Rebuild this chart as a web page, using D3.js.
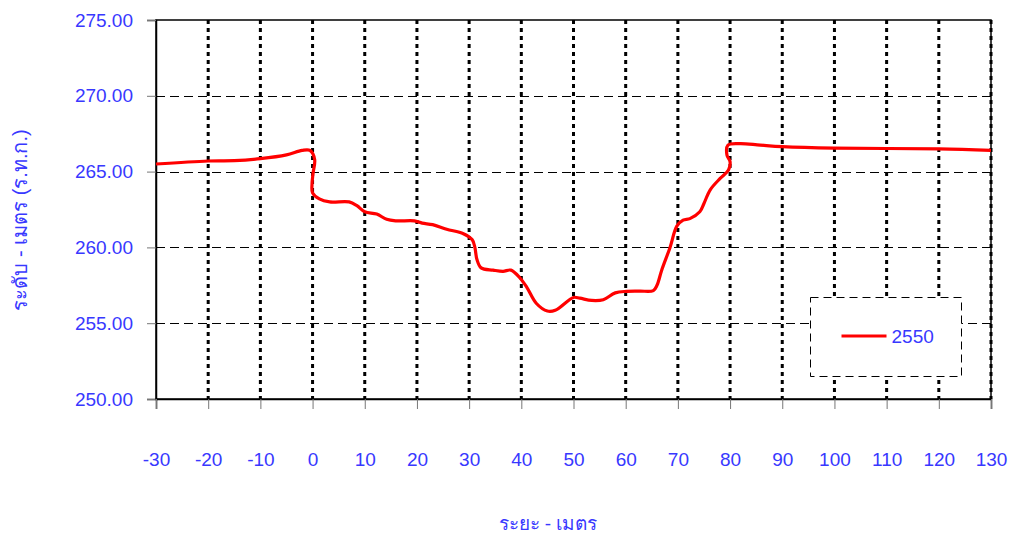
<!DOCTYPE html>
<html>
<head>
  <meta charset='utf-8'>
  <title>ระดับ - เมตร</title>
  <script src='https://cdn.jsdelivr.net/npm/d3@7/dist/d3.min.js'></script>
  <style type='text/css'>
    body { margin: 0; background: #fff; }
    text { font-family: 'Liberation Sans', Arial, sans-serif; }
  </style>
</head>
<body>
  <div id='plot-container'></div>
  <script>
    // chart values
    const seriesName = '2550';
    const distance = [
      -30, -20, -15, -10, -5, -2, -0.5, 0.4, 0.1, -0.1, 0, 1.3, 3.3, 7, 8.5,
      10, 12.3, 14.2, 16, 19.5, 21, 23, 25.7, 28.9, 30.6, 31.1, 31.5, 32.3,
      34.6, 36.5, 38, 39.7, 41, 42.9, 45, 46.5, 50, 51.2, 53.5, 55.7, 58,
      60.2, 62.7, 65.3, 66, 66.9, 68.5, 69.8, 71, 72.3, 74.2, 75, 76.2, 78.1,
      79.7, 80.0, 79.4, 79.6, 81.9, 85.8, 90, 100, 120, 130
    ];
    const level = [
      265.5, 265.7, 265.72, 265.85, 266.1, 266.4, 266.4, 265.8, 264.9, 264.2,
      263.6, 263.2, 263.0, 263.0, 262.75, 262.35, 262.2, 261.85, 261.75,
      261.75, 261.6, 261.5, 261.2, 260.9, 260.5, 260.0, 259.2, 258.65, 258.5,
      258.42, 258.5, 258.0, 257.4, 256.3, 255.8, 255.85, 256.7, 256.65, 256.5,
      256.55, 257.0, 257.1, 257.12, 257.15, 257.5, 258.5, 260.0, 261.4, 261.8,
      261.9, 262.35, 262.9, 263.8, 264.55, 265.1, 265.65, 266.1, 266.75,
      266.85, 266.75, 266.65, 266.55, 266.5, 266.4
    ];
    const xTicks = [-30, -20, -10, 0, 10, 20, 30, 40, 50, 60, 70, 80, 90, 100, 110, 120, 130];
    const yTicks = [250, 255, 260, 265, 270, 275];
    const xTitle = 'ระยะ - เมตร';
    const yTitle = 'ระดับ - เมตร (ร.ท.ก.)';

    const W = 1012, H = 534;
    const margin = { top: 20, right: 21, bottom: 135, left: 156 };
    const width = W - margin.left - margin.right;
    const height = H - margin.top - margin.bottom;
    const blue = '#3838ff';

    const svg = d3.select('#plot-container').append('svg')
        .attr('width', W).attr('height', H);
    const g = svg.append('g')
        .attr('transform', `translate(${margin.left}, ${margin.top})`);

    const x = d3.scaleLinear().domain([-30, 130]).range([0, width]);
    const y = d3.scaleLinear().domain([250, 275]).range([height, 0]);

    // horizontal dashed grid
    g.append('g').selectAll('line')
        .data(yTicks.filter(d => d > 250 && d < 275))
        .enter().append('line')
        .attr('x1', 0).attr('x2', width)
        .attr('y1', d => Math.round(y(d)) + 0.5).attr('y2', d => Math.round(y(d)) + 0.5)
        .attr('stroke', '#000').attr('stroke-width', 1)
        .attr('stroke-dasharray', '9,5');

    // frame
    g.append('rect')
        .attr('x', 0).attr('y', 0).attr('width', width).attr('height', height)
        .attr('fill', 'none').attr('stroke', '#000').attr('stroke-width', 1.5);

    // vertical dotted grid
    g.append('g').selectAll('line')
        .data(xTicks.filter(d => d > -30))
        .enter().append('line')
        .attr('x1', d => x(d)).attr('x2', d => x(d))
        .attr('y1', 0).attr('y2', height)
        .attr('stroke', '#000').attr('stroke-width', 3)
        .attr('stroke-dasharray', '4,4');

    // axes
    const yAxis = g.append('g')
        .call(d3.axisLeft(y).tickValues(yTicks).tickSize(9).tickPadding(14)
            .tickFormat(d3.format('.2f')));
    const xAxis = g.append('g')
        .attr('transform', `translate(0, ${height})`)
        .call(d3.axisBottom(x).tickValues(xTicks).tickSize(10).tickPadding(44)
            .tickFormat(d => String(d)));
    [xAxis, yAxis].forEach(a => {
        a.select('.domain').attr('stroke', '#000').attr('stroke-width', 1.5);
        a.selectAll('.tick line').attr('stroke', '#777');
        a.selectAll('.tick text').attr('fill', blue)
            .style('font-size', '19px')
            .style('font-family', "'Liberation Sans', Arial, sans-serif");
    });

    // profile line
    const pts = distance.map((d, i) => [d, level[i]]);
    g.append('path')
        .datum(pts)
        .attr('fill', 'none')
        .attr('stroke', '#ff0000')
        .attr('stroke-width', 3.2)
        .attr('stroke-linejoin', 'round')
        .attr('d', d3.line()
            .x(d => x(d[0])).y(d => y(d[1]))
            .curve(d3.curveCatmullRom.alpha(0.5)));

    // legend
    const lg = svg.append('g').attr('transform', 'translate(810.5, 297.5)');
    lg.append('rect')
        .attr('width', 151).attr('height', 79)
        .attr('fill', '#fff').attr('stroke', '#000').attr('stroke-width', 1)
        .attr('stroke-dasharray', '8,5');
    lg.append('line')
        .attr('x1', 31).attr('x2', 76).attr('y1', 38.5).attr('y2', 38.5)
        .attr('stroke', '#ff0000').attr('stroke-width', 3);
    lg.append('text')
        .attr('x', 81).attr('y', 45)
        .attr('fill', blue).style('font-size', '19px')
        .text(seriesName);

    // axis titles
    svg.append('text')
        .attr('x', 548).attr('y', 530)
        .attr('text-anchor', 'middle')
        .attr('fill', blue).style('font-size', '19px')
        .text(xTitle);
    svg.append('text')
        .attr('transform', 'translate(27, 220) rotate(-90)')
        .attr('text-anchor', 'middle')
        .attr('fill', blue).style('font-size', '20px')
        .text(yTitle);
  </script>
</body>
</html>
